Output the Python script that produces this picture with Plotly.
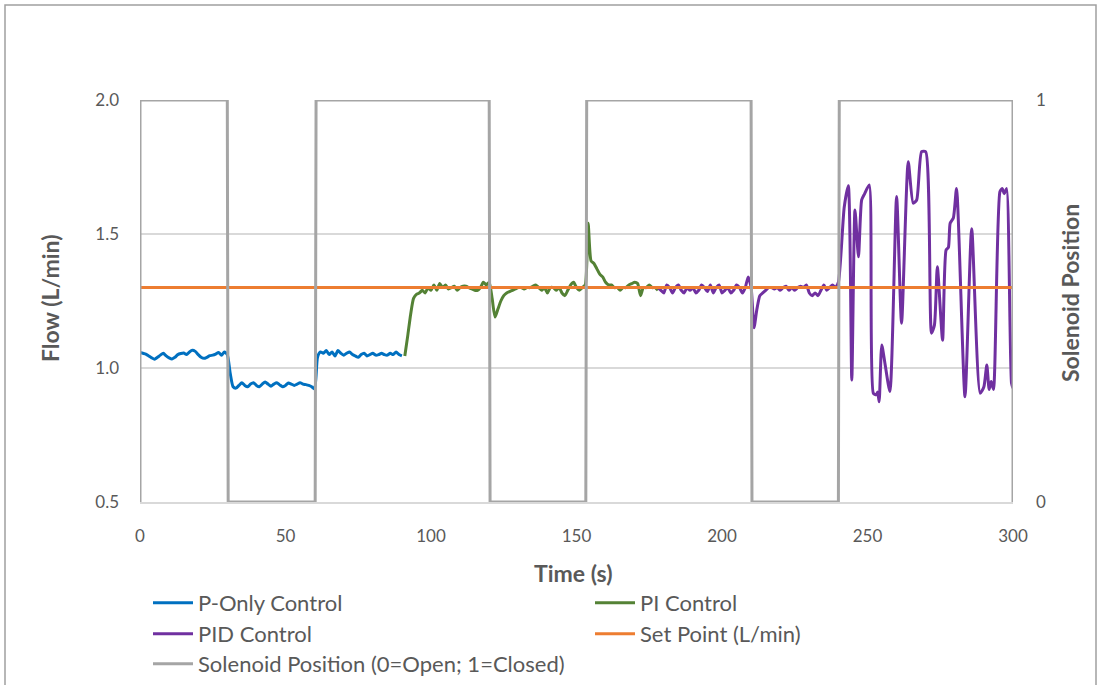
import plotly.graph_objects as go

# ---------------- data ----------------
p_time = list(range(0, 91))
p_flow = [1.058, 1.055, 1.052, 1.045, 1.038, 1.033, 1.040, 1.048, 1.055, 1.045,
          1.038, 1.034, 1.040, 1.050, 1.054, 1.056, 1.050, 1.060, 1.066, 1.062,
          1.050, 1.040, 1.036, 1.040, 1.046, 1.048, 1.052, 1.058, 1.048, 1.060,
          1.050, 0.980, 0.930, 0.925, 0.935, 0.945, 0.935, 0.930, 0.940, 0.945,
          0.935, 0.930, 0.940, 0.948, 0.940, 0.932, 0.940, 0.945, 0.937, 0.930,
          0.935, 0.944, 0.940, 0.935, 0.940, 0.945, 0.940, 0.938, 0.935, 0.930,
          0.922, 1.040, 1.060, 1.055, 1.065, 1.050, 1.060, 1.045, 1.065, 1.055,
          1.048, 1.055, 1.060, 1.050, 1.045, 1.040, 1.050, 1.055, 1.045, 1.050,
          1.055, 1.048, 1.050, 1.055, 1.050, 1.048, 1.055, 1.050, 1.060, 1.050,
          1.045]

pi_time = list(range(91, 179))
pi_flow = [1.045, 1.120, 1.200, 1.260, 1.275, 1.280, 1.290, 1.280, 1.300, 1.290,
           1.310, 1.290, 1.315, 1.300, 1.310, 1.295, 1.300, 1.305, 1.290, 1.300,
           1.305, 1.305, 1.300, 1.295, 1.290, 1.290, 1.300, 1.320, 1.310, 1.320,
           1.260, 1.190, 1.220, 1.250, 1.270, 1.280, 1.285, 1.290, 1.295, 1.300,
           1.300, 1.295, 1.300, 1.300, 1.305, 1.310, 1.300, 1.290, 1.300, 1.280,
           1.300, 1.300, 1.290, 1.300, 1.280, 1.270, 1.290, 1.310, 1.320, 1.300,
           1.290, 1.300, 1.310, 1.540, 1.400, 1.390, 1.370, 1.350, 1.340, 1.320,
           1.310, 1.310, 1.300, 1.300, 1.290, 1.300, 1.300, 1.310, 1.315, 1.320,
           1.315, 1.270, 1.300, 1.300, 1.310, 1.300, 1.300, 1.290]

pid_time = list(range(178, 241)) + [
    242, 243.4, 244.6, 245.7, 246.9, 248, 249, 250.6, 252, 253, 253.5, 254,
    254.9, 256, 257.7, 260, 261.7, 264, 265.7, 266.9, 268.6, 270, 272, 273, 274,
    275.8, 277, 277.8, 278.4, 279.5, 280.6, 283.5, 285.8, 288.7, 290, 291, 291.8,
    292.5, 293.3, 295.5, 296.3, 297, 297.8, 299.5, 300]
pid_flow = [1.300, 1.290, 1.280, 1.310, 1.300, 1.280, 1.300, 1.310, 1.290, 1.280,
            1.300, 1.290, 1.300, 1.280, 1.290, 1.310, 1.300, 1.285, 1.310, 1.280,
            1.300, 1.310, 1.280, 1.290, 1.300, 1.280, 1.290, 1.310, 1.300, 1.280,
            1.300, 1.340, 1.300, 1.150, 1.220, 1.270, 1.280, 1.290, 1.300, 1.300,
            1.295, 1.300, 1.290, 1.300, 1.305, 1.290, 1.300, 1.290, 1.300, 1.305,
            1.300, 1.310, 1.280, 1.270, 1.280, 1.270, 1.290, 1.310, 1.290, 1.300,
            1.310, 1.300, 1.320,
            1.600, 1.680, 0.955, 1.590, 1.415, 1.627, 1.650, 1.683, 0.906, 0.900,
            0.910, 0.874, 1.086, 1.017, 0.912, 1.640, 1.167, 1.770, 1.615, 1.627,
            1.807, 1.807, 1.130, 1.160, 1.378, 1.104, 1.440, 1.450, 1.540, 1.560,
            1.670, 0.893, 1.520, 0.906, 0.930, 1.011, 0.920, 0.950, 0.920, 1.658,
            1.670, 1.650, 1.670, 0.943, 0.925]

sp_time = [0, 300]
sp_flow = [1.3, 1.3]

sol_time = [0, 0, 30, 30.3, 60.2, 60.5, 120, 120.3, 153.2, 153.5, 210, 210.3, 240, 240.3, 300, 300]
sol_state = [0, 1, 1, 0, 0, 1, 1, 0, 0, 1, 1, 0, 0, 1, 1, 0]

x_ticks = [0, 50, 100, 150, 200, 250, 300]
y_ticks = [0.5, 1.0, 1.5, 2.0]
y2_ticks = [0, 1]

# ---------------- figure ----------------
FONT = "Lato"
TXT = "#595959"

fig = go.Figure()
fig.add_trace(go.Scatter(x=p_time, y=p_flow, mode="lines", name="P-Only Control",
                         legend="legend",
                         line=dict(color="#0070C0", width=3, shape="spline", smoothing=0.6)))
fig.add_trace(go.Scatter(x=pi_time, y=pi_flow, mode="lines", name="PI Control",
                         legend="legend2",
                         line=dict(color="#548235", width=3, shape="spline", smoothing=0.6)))
fig.add_trace(go.Scatter(x=pid_time, y=pid_flow, mode="lines", name="PID Control",
                         legend="legend3",
                         line=dict(color="#7030A0", width=3, shape="spline", smoothing=0.6)))
fig.add_trace(go.Scatter(x=sp_time, y=sp_flow, mode="lines", name="Set Point (L/min)",
                         legend="legend4",
                         line=dict(color="#ED7D31", width=3)))
fig.add_trace(go.Scatter(x=sol_time, y=sol_state, mode="lines",
                         name="Solenoid Position (0=Open; 1=Closed)", yaxis="y2",
                         legend="legend5",
                         line=dict(color="#A5A5A5", width=3)))

W, H = 1100, 685
L, R, T, B = 140, 87, 100, 183
pw, ph = W - L - R, H - T - B

def px_x(px):
    return (px - L) / pw

def px_y(py):
    return (H - B - py) / ph

def legend_at(pxl, py):
    return dict(orientation="v", xref="container", yref="container",
                x=pxl / W, y=1 - py / H, xanchor="left", yanchor="middle",
                itemwidth=40,
                font=dict(family=FONT, size=22, color=TXT),
                bgcolor="rgba(0,0,0,0)")

title_font = dict(family=FONT, size=23, color=TXT)

fig.update_layout(
    width=W, height=H,
    margin=dict(l=L, r=R, t=T, b=B, autoexpand=False),
    paper_bgcolor="white", plot_bgcolor="white",
    font=dict(family=FONT, color=TXT, size=16),
    showlegend=True,
    legend=legend_at(148, 603),
    legend2=legend_at(590, 603),
    legend3=legend_at(148, 634),
    legend4=legend_at(590, 634),
    legend5=legend_at(148, 664),
    xaxis=dict(range=[0, 300], tickvals=x_ticks, showgrid=False, zeroline=False,
               showline=True, linecolor="#D9D9D9", linewidth=1.5,
               ticks="", ticklabelstandoff=18,
               tickfont=dict(family=FONT, size=17, color=TXT)),
    yaxis=dict(range=[0.5, 2.0], tickvals=y_ticks, tickformat=".1f",
               showgrid=True, gridcolor="#D9D9D9", gridwidth=1.5, zeroline=False,
               showline=False, ticks="", ticklabelstandoff=20,
               tickfont=dict(family=FONT, size=17, color=TXT)),
    yaxis2=dict(range=[0, 1], tickvals=y2_ticks, overlaying="y", side="right",
                showgrid=False, zeroline=False, showline=False, ticks="",
                ticklabelstandoff=22,
                tickfont=dict(family=FONT, size=17, color=TXT)),
    annotations=[
        dict(text="<b>Time (s)</b>", xref="paper", yref="paper",
             x=px_x(573), y=px_y(573), xanchor="center", yanchor="middle",
             showarrow=False, font=title_font),
        dict(text="<b>Flow (L/min)</b>", xref="paper", yref="paper",
             x=px_x(50), y=px_y(299), xanchor="center", yanchor="middle",
             textangle=-90, showarrow=False, font=title_font),
        dict(text="<b>Solenoid Position</b>", xref="paper", yref="paper",
             x=px_x(1070), y=px_y(293), xanchor="center", yanchor="middle",
             textangle=-90, showarrow=False, font=title_font),
    ],
    shapes=[dict(type="rect", xref="paper", yref="paper",
                 x0=px_x(5), x1=px_x(1096), y0=px_y(700), y1=px_y(5),
                 line=dict(color="#A0A0A0", width=1.5), fillcolor="rgba(0,0,0,0)",
                 layer="below")],
)

fig.write_html("out.html")
